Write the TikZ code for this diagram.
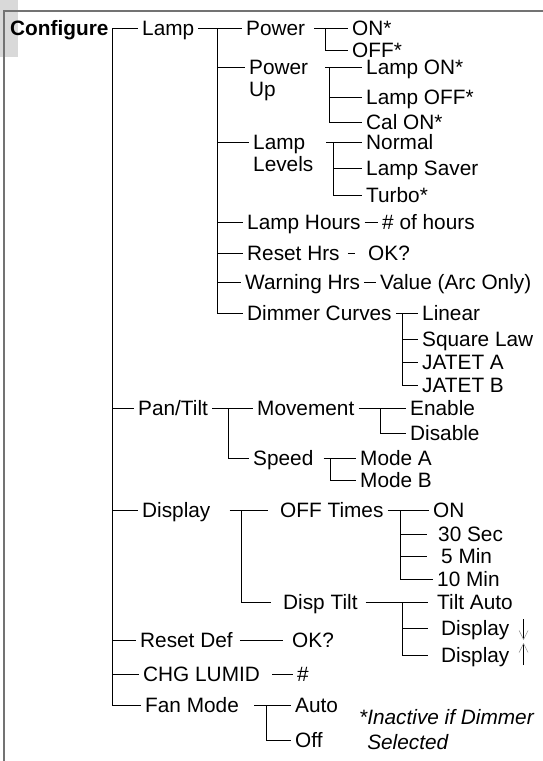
\documentclass[tikz,border=0pt]{standalone}
\usepackage{fontspec}
\setmainfont{Liberation Sans}
\usetikzlibrary{arrows.meta}

\newcommand{\twoline}[2]{\begin{tabular}[t]{@{}l@{}}#1\\#2\end{tabular}}

\tikzset{
	item/.style={anchor=west, inner xsep=4pt, inner ysep=0pt, text height=15pt, text depth=0pt, font=\fontsize{20.8}{22}\selectfont},
	branch/.style={line width=0.9pt},
	tipline/.style={line width=0.6pt, -{Straight Barb[length=9pt,width=9pt,color=black!45,line width=0.5pt]}},
}

\begin{document}
\begin{tikzpicture}[x=1pt, y=-1pt]
				\useasboundingbox (0,0) rectangle (543,761);
				% cadre
				\fill[black!15] (0,0) rectangle (18,57);
				\draw[black!55, line width=1.5pt] (543,11) -- (4,11) -- (4,761);
				% niveau 0 et 1
				\node[item, font=\fontsize{20.8}{22}\selectfont\bfseries] (cfg) at (6,28) {Configure};
				\node[item] (lamp) at (138,28) {Lamp};
				\node[item] (pan) at (134,408) {Pan/Tilt};
				\node[item] (disp) at (138,510) {Display};
				\node[item] (rdef) at (136,640) {Reset Def};
				\node[item] (lumid) at (139,674) {CHG LUMID};
				\node[item] (fan) at (141,705) {Fan Mode};
				% Lamp
				\node[item] (pwr) at (242,28) {Power};
				\node[item] (pwrup) at (245,67) {\twoline{Power}{Up}};
				\node[item] (lvl) at (249,142) {\twoline{Lamp}{Levels}};
				\node[item] (hrs) at (243,222) {Lamp Hours};
				\node[item] (rhrs) at (243,253) {Reset Hrs};
				\node[item] (whrs) at (241,282) {Warning Hrs};
				\node[item] (dim) at (243,313) {Dimmer Curves};
				\node[item] (on) at (348,28) {ON*};
				\node[item] (off) at (348,50) {OFF*};
				\node[item] (lon) at (362,67) {Lamp ON*};
				\node[item] (loff) at (362,97) {Lamp OFF*};
				\node[item] (calon) at (362,122) {Cal ON*};
				\node[item] (norm) at (362,142) {Normal};
				\node[item] (saver) at (362,168) {Lamp Saver};
				\node[item] (turbo) at (362,195) {Turbo*};
				\node[item] (nhrs) at (378,222) {\# of hours};
				\node[item] (rok) at (364,253) {OK?};
				\node[item] (val) at (376,282) {Value (Arc Only)};
				\node[item] (lin) at (418,313) {Linear};
				\node[item] (sq) at (418,339) {Square Law};
				\node[item] (ja) at (418,362) {JATET A};
				\node[item] (jb) at (418,385) {JATET B};
				% Pan/Tilt
				\node[item] (mov) at (253,408) {Movement};
				\node[item] (spd) at (249,458) {Speed};
				\node[item] (en) at (406,408) {Enable};
				\node[item] (dis) at (406,433) {Disable};
				\node[item] (ma) at (356,458) {Mode A};
				\node[item] (mb) at (356,480) {Mode B};
				% Display
				\node[item] (offt) at (276,510) {OFF Times};
				\node[item] (tilt) at (279,602) {Disp Tilt};
				\node[item] (son) at (429,510) {ON};
				\node[item] (s30) at (434,534) {30 Sec};
				\node[item] (m5) at (437,556) {5 Min};
				\node[item] (m10) at (433,579) {10 Min};
				\node[item] (tauto) at (433,602) {Tilt Auto};
				\node[item] (dd) at (437,628) {Display};
				\node[item] (du) at (437,655) {Display};
				% derniers
				\node[item] (dok) at (288,640) {OK?};
				\node[item] (hash) at (293,674) {\#};
				\node[item] (fauto) at (291,705) {Auto};
				\node[item] (foff) at (291,740) {Off};
				\node[item, font=\fontsize{20.8}{22}\selectfont\itshape] (note) at (355,717)
					{\begin{tabular}[t]{@{}l@{}}*Inactive if Dimmer\\[3pt]\phantom{*}Selected\end{tabular}};
				% barres verticales
				\coordinate (lampbar) at (217,28);
				\coordinate (pwrbar) at (325,28);
				\coordinate (upbar) at (329,67);
				\coordinate (lvlbar) at (333,142);
				\coordinate (dimbar) at (402,313);
				\coordinate (panbar) at (228,408);
				\coordinate (movbar) at (380,408);
				\coordinate (spdbar) at (330,458);
				\coordinate (dispbar) at (241,510);
				\coordinate (offbar) at (400,510);
				\coordinate (tiltbar) at (402,602);
				\coordinate (fanbar) at (266,705);
				% branches Configure
				\draw[branch] (cfg.east) -- (lamp.west);
				\draw[branch] (cfg.east) |- (fan.west);
				\draw[branch] (cfg.east |- pan.west) -- (pan.west);
				\draw[branch] (cfg.east |- disp.west) -- (disp.west);
				\draw[branch] (cfg.east |- rdef.west) -- (rdef.west);
				\draw[branch] (cfg.east |- lumid.west) -- (lumid.west);
				% branches Lamp
				\draw[branch] (lamp.east) -- (pwr.west);
				\draw[branch] (lampbar) |- (dim.west);
				\draw[branch] (lampbar |- pwrup.west) -- (pwrup.west);
				\draw[branch] (lampbar |- lvl.west) -- (lvl.west);
				\draw[branch] (lampbar |- hrs.west) -- (hrs.west);
				\draw[branch] (lampbar |- rhrs.west) -- (rhrs.west);
				\draw[branch] (lampbar |- whrs.west) -- (whrs.west);
				\draw[branch] ([xshift=5pt]pwr.east) -- (on.west);
				\draw[branch] (pwrbar) |- (off.west);
				\draw[branch] ([xshift=-4pt]upbar) -- (lon.west);
				\draw[branch] (upbar) |- (calon.west);
				\draw[branch] (upbar |- loff.west) -- (loff.west);
				\draw[branch] ([xshift=-7pt]lvlbar) -- (norm.west);
				\draw[branch] (lvlbar) |- (turbo.west);
				\draw[branch] (lvlbar |- saver.west) -- (saver.west);
				\draw[branch] (hrs.east) -- (nhrs.west);
				\draw[branch, shorten <=4pt, shorten >=9pt] (rhrs.east) -- (rok.west);
				\draw[branch] (whrs.east) -- (val.west);
				\draw[branch] (dim.east) -- (lin.west);
				\draw[branch] (dimbar) |- (jb.west);
				\draw[branch] (dimbar |- sq.west) -- (sq.west);
				\draw[branch] (dimbar |- ja.west) -- (ja.west);
				% branches Pan/Tilt
				\draw[branch] (pan.east) -- (mov.west);
				\draw[branch] (panbar) |- (spd.west);
				\draw[branch] (mov.east) -- (en.west);
				\draw[branch] (movbar) |- (dis.west);
				\draw[branch] ([xshift=6pt]spd.east) -- (ma.west);
				\draw[branch] (spdbar) |- (mb.west);
				% branches Display
				\draw[branch] ([xshift=15pt]disp.east) -- ([xshift=-8pt]offt.west);
				\draw[branch] (dispbar) |- ([xshift=-8pt]tilt.west);
				\draw[branch] (offt.east) -- (son.west);
				\draw[branch] (offbar) |- (m10.west);
				\draw[branch] (offbar |- s30.west) -- ([xshift=-7pt]s30.west);
				\draw[branch] (offbar |- m5.west) -- ([xshift=-10pt]m5.west);
				\draw[branch] ([xshift=4pt]tilt.east) -- ([xshift=-5pt]tauto.west);
				\draw[branch] (tiltbar) |- ([xshift=-9pt]du.west);
				\draw[branch] (tiltbar |- dd.west) -- ([xshift=-9pt]dd.west);
				\draw[tipline] (dd.east) ++(10,-9) -- ++(0,21);
				\draw[tipline] (du.east) ++(10,10) -- ++(0,-22);
				% branches du bas
				\draw[branch] ([xshift=3pt]rdef.east) -- ([xshift=-5pt]dok.west);
				\draw[branch] ([xshift=8pt]lumid.east) -- (hash.west);
				\draw[branch] ([xshift=11pt]fan.east) -- (fauto.west);
				\draw[branch] (fanbar) |- (foff.west);
		\end{tikzpicture}
\end{document}
